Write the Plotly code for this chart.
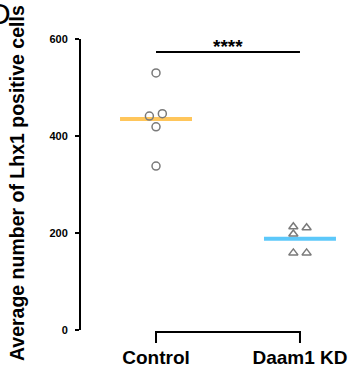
import numpy as np
import plotly.graph_objects as go

categories = ["Control", "Daam1 KD"]
control_values = [530, 441, 446, 419, 338]
daam1_values = [213, 211, 198, 159, 159]
control_jitter = [0.0, -0.046, 0.044, 0.0, 0.0]
daam1_jitter = [-0.046, 0.046, -0.046, -0.046, 0.046]
y_ticks = [0, 200, 400, 600]
significance = "****"
sig_level = 573

FONT = "Liberation Sans, Arial, sans-serif"
GREY = "#7a7a7a"
mean_colors = ["#FFC65B", "#5CC8FA"]

fig = go.Figure()

groups = [(control_values, control_jitter, "circle-open"),
          (daam1_values, daam1_jitter, "triangle-up-open")]

for i, (vals, jit, sym) in enumerate(groups):
    m = float(np.mean(vals))
    fig.add_trace(go.Scatter(
        x=[i - 0.25, i + 0.25], y=[m, m], mode="lines",
        line=dict(color=mean_colors[i], width=4), showlegend=False,
        hoverinfo="skip"))
    fig.add_trace(go.Scatter(
        x=[i + j for j in jit], y=vals, mode="markers",
        marker=dict(symbol=sym, size=8,
                    color=GREY, line=dict(color=GREY, width=1.5)),
        showlegend=False, cliponaxis=False))

# significance bar
fig.add_shape(type="line", xref="x", yref="y", x0=0, x1=1,
              y0=sig_level, y1=sig_level, line=dict(color="black", width=2))
fig.add_annotation(x=0.5, y=sig_level, xref="x", yref="y", text=f"<b>{significance}</b>",
                   showarrow=False, yanchor="bottom", yshift=-7,
                   font=dict(family=FONT, size=19, color="black"))

# bracket x-axis
fig.add_shape(type="path", xref="x", yref="paper",
              path="M 0,-0.045 L 0,-0.007 L 1,-0.007 L 1,-0.045",
              line=dict(color="black", width=2))

# y title
fig.add_annotation(x=-0.247, y=0.505, xref="paper", yref="paper",
                   text="<b>Average number of Lhx1 positive cells</b>",
                   textangle=-90, showarrow=False, xanchor="center", yanchor="middle",
                   font=dict(family=FONT, size=19.5, color="black"))

# panel letter
fig.add_annotation(x=-0.262, y=1.152, xref="paper", yref="paper", text="D",
                   showarrow=False, xanchor="right", yanchor="top",
                   font=dict(family=FONT, size=30, color="black"))

fig.update_layout(
    width=354, height=370,
    margin=dict(l=81, r=14, t=39, b=40, autoexpand=False),
    plot_bgcolor="white", paper_bgcolor="white",
    font=dict(family=FONT, color="black"),
    xaxis=dict(range=[-0.521, 1.278], tickvals=[0, 1], ticktext=[f"<b>{c}</b>" for c in categories],
               showline=False, showgrid=False, zeroline=False, ticks="", automargin=False,
               ticklabelstandoff=14, tickfont=dict(family=FONT, size=19, color="black")),
    yaxis=dict(range=[0, 600], tickvals=y_ticks, ticktext=[f"<b>{t}</b>" for t in y_ticks],
               showline=True, linecolor="black", linewidth=2, ticks="outside", automargin=False,
               ticklen=4, tickwidth=2, tickcolor="black", showgrid=False, zeroline=False,
               ticklabelstandoff=5, tickfont=dict(family=FONT, size=11, color="black")),
)

fig.write_html("out.html")
